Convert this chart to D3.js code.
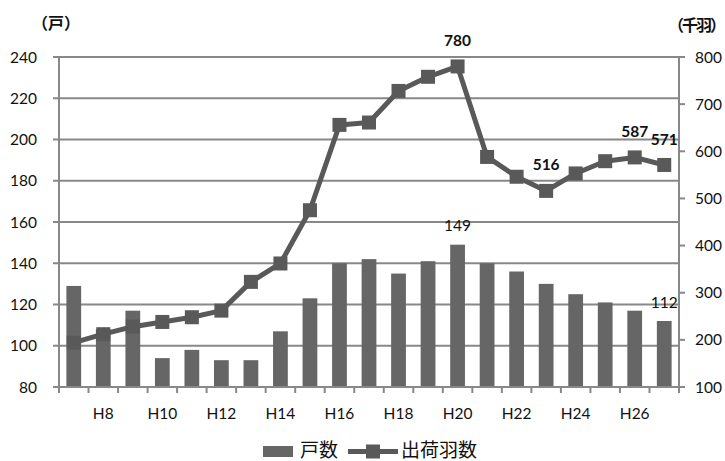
<!DOCTYPE html>
<html><head><meta charset="utf-8">
<script src="https://cdn.jsdelivr.net/npm/d3@7"></script>
<style>
html,body{margin:0;padding:0;background:#fff;}
svg{display:block;font-family:Lato,"Noto Sans CJK JP",sans-serif;}
</style></head>
<body><svg id="c" width="725" height="461"></svg>
<script>
const categories = ["H7","H8","H9","H10","H11","H12","H13","H14","H15","H16","H17","H18","H19","H20","H21","H22","H23","H24","H25","H26","H27"];
const households = [129,108,117,94,98,93,93,107,123,140,142,135,141,149,140,136,130,125,121,117,112];
const shipments = [194,212,228,238,248,262,323,362,475,656,661,728,758,780,588,546,516,553,579,587,571];
const leftTicks = [80,100,120,140,160,180,200,220,240];
const rightTicks = [100,200,300,400,500,600,700,800];
const xTickLabels = ["H8","H10","H12","H14","H16","H18","H20","H22","H24","H26"];
const barLabelIdx = [13,20];
const lineLabelIdx = [13,16,19,20];

const svg = d3.select("#c");
const L = 59, R = 679, T = 57, B = 387;
const x = d3.scaleBand().domain(categories).range([L,R]).paddingInner(0.5).paddingOuter(0.25);
const xc = d3.scaleBand().domain(categories).range([L,R]);
const yL = d3.scaleLinear().domain([80,240]).range([B,T]);
const yR = d3.scaleLinear().domain([100,800]).range([B,T]);
const gridC = "#888", barC = "#666", lineC = "#595959", textC = "#111";

// gridlines
svg.append("g").selectAll("line").data(leftTicks).join("line")
  .attr("x1",L-6).attr("x2",R).attr("y1",d=>yL(d)).attr("y2",d=>yL(d))
  .attr("stroke",gridC).attr("stroke-width",2);

// left axis labels
svg.append("g").selectAll("text").data(leftTicks).join("text")
  .attr("x",37).attr("y",d=>yL(d)).attr("dy","0.36em").attr("text-anchor","end")
  .attr("font-size",15.5).attr("fill",textC).text(d=>d);

// left axis line
svg.append("line").attr("x1",L).attr("x2",L).attr("y1",T-1).attr("y2",B+5).attr("stroke",gridC).attr("stroke-width",2);
// right axis
svg.append("line").attr("x1",R).attr("x2",R).attr("y1",T-1).attr("y2",B+5).attr("stroke",gridC).attr("stroke-width",2);
svg.append("g").selectAll("line").data(rightTicks).join("line")
  .attr("x1",R).attr("x2",R+6).attr("y1",d=>yR(d)).attr("y2",d=>yR(d))
  .attr("stroke",gridC).attr("stroke-width",2);
svg.append("g").selectAll("text").data(rightTicks).join("text")
  .attr("x",695).attr("y",d=>yR(d)).attr("dy","0.36em").attr("text-anchor","start")
  .attr("font-size",15.5).attr("fill",textC).text(d=>d);

// bars
svg.append("g").selectAll("rect").data(households).join("rect")
  .attr("x",(d,i)=>x(categories[i])).attr("width",x.bandwidth())
  .attr("y",d=>yL(d)).attr("height",d=>B-yL(d)).attr("fill",barC);

// bottom axis
svg.append("line").attr("x1",L-6).attr("x2",R).attr("y1",B).attr("y2",B).attr("stroke",gridC).attr("stroke-width",2);
svg.append("g").selectAll("line").data(categories.concat(["_end"])).join("line")
  .attr("x1",(d,i)=>L+i*xc.step()).attr("x2",(d,i)=>L+i*xc.step())
  .attr("y1",B).attr("y2",B+6).attr("stroke",gridC).attr("stroke-width",2);
svg.append("g").selectAll("text").data(xTickLabels).join("text")
  .attr("x",d=>xc(d)+xc.bandwidth()/2).attr("y",413).attr("dy","0.36em")
  .attr("text-anchor","middle").attr("font-size",15.5).attr("fill",textC).text(d=>d);

// line
const line = d3.line().x((d,i)=>xc(categories[i])+xc.bandwidth()/2).y(d=>yR(d));
svg.append("path").datum(shipments).attr("d",line).attr("fill","none")
  .attr("stroke",lineC).attr("stroke-width",5).attr("stroke-linejoin","round");
const ms = 14;
svg.append("g").selectAll("rect").data(shipments).join("rect")
  .attr("x",(d,i)=>xc(categories[i])+xc.bandwidth()/2-ms/2).attr("y",d=>yR(d)-ms/2)
  .attr("width",ms).attr("height",ms).attr("fill",lineC);

// bar labels
svg.append("g").selectAll("text").data(barLabelIdx).join("text")
  .attr("x",i=>xc(categories[i])+xc.bandwidth()/2).attr("y",i=>yL(households[i])-19).attr("dy","0.36em")
  .attr("text-anchor","middle").attr("font-size",15.5).attr("fill",textC).text(i=>households[i]);
// line labels
svg.append("g").selectAll("text").data(lineLabelIdx).join("text")
  .attr("x",i=>xc(categories[i])+xc.bandwidth()/2).attr("y",i=>yR(shipments[i])-26).attr("dy","0.36em")
  .attr("text-anchor","middle").attr("font-size",15.5).attr("font-weight","bold").attr("fill",textC).text(i=>shipments[i]);

// axis titles
svg.append("text").attr("x",56).attr("y",23).attr("dy","0.36em").attr("text-anchor","middle")
  .attr("font-family","Noto Sans CJK JP").attr("font-weight","bold").attr("font-size",16).attr("fill",textC).text("（戸）");
svg.append("text").attr("x",696).attr("y",25).attr("dy","0.36em").attr("text-anchor","middle")
  .attr("letter-spacing",-2)
  .attr("font-family","Noto Sans CJK JP").attr("font-weight","bold").attr("font-size",16).attr("fill",textC).text("（千羽）");

// legend
const lg = svg.append("g");
lg.append("rect").attr("x",263).attr("y",446).attr("width",30).attr("height",11).attr("fill",barC);
lg.append("text").attr("x",300).attr("y",450.5).attr("dy","0.36em").attr("font-family","Noto Sans CJK JP")
  .attr("font-size",19).attr("fill",textC).text("戸数");
lg.append("line").attr("x1",348).attr("x2",398).attr("y1",451.5).attr("y2",451.5).attr("stroke",lineC).attr("stroke-width",5);
lg.append("rect").attr("x",373-ms/2).attr("y",451.5-ms/2).attr("width",ms).attr("height",ms).attr("fill",lineC);
lg.append("text").attr("x",401).attr("y",450.5).attr("dy","0.36em").attr("font-family","Noto Sans CJK JP")
  .attr("font-size",19).attr("fill",textC).text("出荷羽数");
</script></body></html>
